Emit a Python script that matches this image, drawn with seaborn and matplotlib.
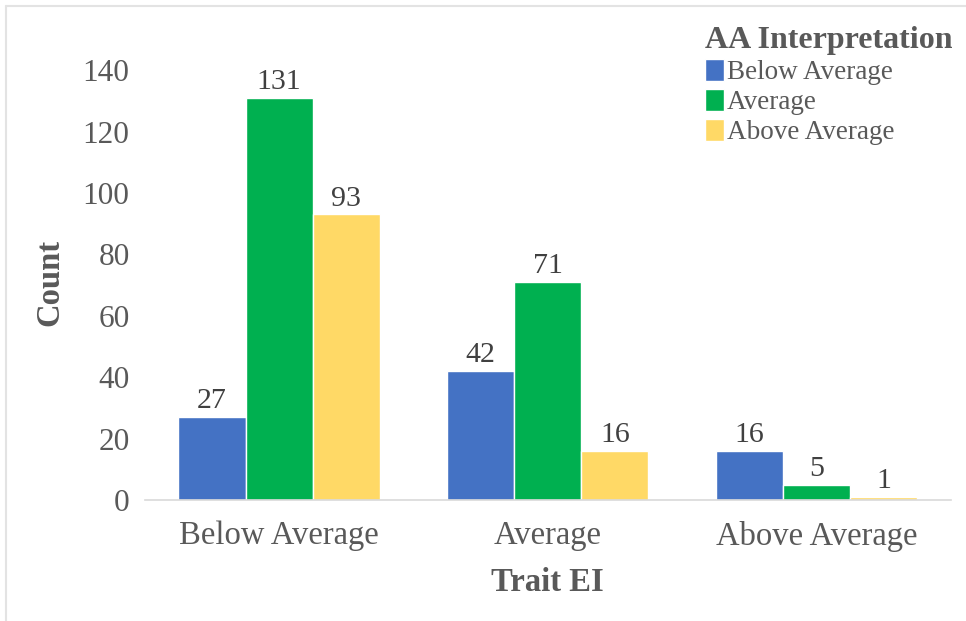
import matplotlib
matplotlib.use("Agg")
import matplotlib.pyplot as plt
from matplotlib.lines import Line2D
import seaborn as sns
import pandas as pd

# Trait EI groups on the x axis, AA interpretation as the hue
trait_ei = ["Below Average", "Average", "Above Average"]
aa_levels = ["Below Average", "Average", "Above Average"]
count_aa_below = [27, 42, 16]
count_aa_average = [131, 71, 5]
count_aa_above = [93, 16, 1]
y_ticks = [0, 20, 40, 60, 80, 100, 120, 140]

palette = ["#4472C4", "#00B050", "#FFD966"]
text_color = "#595959"

rows = []
for level, counts in zip(aa_levels, [count_aa_below, count_aa_average, count_aa_above]):
    for grp, c in zip(trait_ei, counts):
        rows.append({"Trait EI": grp, "AA Interpretation": level, "Count": c})
df = pd.DataFrame(rows)

sns.set_theme(style="white")
plt.rcParams["font.family"] = ["Liberation Serif", "DejaVu Serif"]

fig = plt.figure(figsize=(9.66, 6.21), dpi=100)
ax = fig.add_axes([0.150, 0.195, 0.834, 0.692])

sns.barplot(data=df, x="Trait EI", y="Count", hue="AA Interpretation",
            order=trait_ei, hue_order=aa_levels, palette=palette,
            width=0.75, saturation=1, errorbar=None, ax=ax, legend=True)

for container in ax.containers:
    ax.bar_label(container, fmt="%d", padding=2, fontsize=21.5, color="#404040")

ax.set_xlim(-0.5, 2.5)
ax.set_ylim(0, 140)
ax.set_yticks(y_ticks)
ax.tick_params(axis="both", colors=text_color, length=0)
ax.tick_params(axis="x", labelsize=23.5, pad=15)
ax.tick_params(axis="y", labelsize=22.5, pad=11)
for s in ["top", "right", "left"]:
    ax.spines[s].set_visible(False)
ax.spines["bottom"].set_color("#D9D9D9")
ax.spines["bottom"].set_linewidth(1.2)

ax.set_xlabel("Trait EI", fontsize=23.5, fontweight="bold", color=text_color)
ax.set_ylabel("Count", fontsize=23.5, fontweight="bold", color=text_color)
ax.xaxis.set_label_coords(0.5, -0.193)
ax.yaxis.set_label_coords(-0.118, 0.505)
ax.xaxis.label.set_va("center")
ax.yaxis.label.set_va("center")

leg = ax.legend(title="AA Interpretation", loc="upper left",
                bbox_to_anchor=(0.695, 1.102), frameon=False, fontsize=19.5,
                title_fontproperties={"weight": "bold", "size": 23},
                alignment="left",
                handlelength=0.7, handleheight=0.85, handletextpad=0.12,
                labelspacing=0.14, borderaxespad=0, borderpad=0)
for t in leg.get_texts():
    t.set_color(text_color)
leg.get_title().set_color(text_color)

# thin frame lines along the top and left of the figure
fig.add_artist(Line2D([6 / 966, 1.0], [1 - 6 / 621, 1 - 6 / 621],
                      transform=fig.transFigure, color="#E3E3E3", lw=1.5))
fig.add_artist(Line2D([6 / 966, 6 / 966], [0.0, 1 - 6 / 621],
                      transform=fig.transFigure, color="#E3E3E3", lw=1.5))

fig.savefig("out.png", dpi=100, facecolor="white")
